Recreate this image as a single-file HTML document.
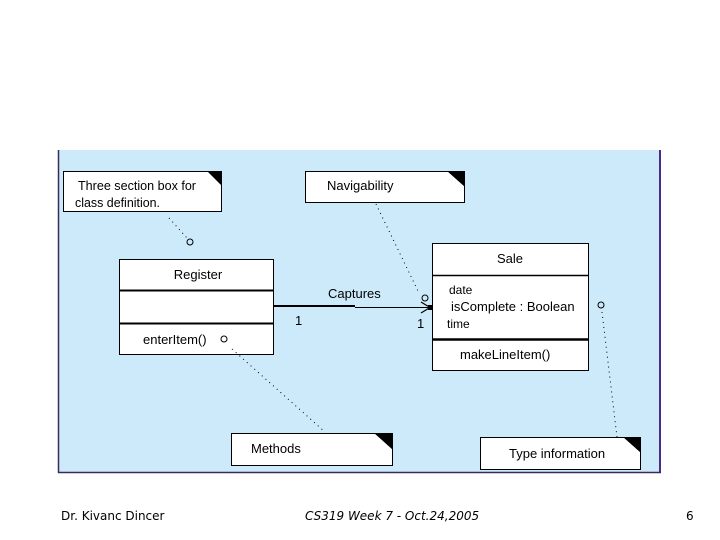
<!DOCTYPE html>
<html><head><meta charset="utf-8"><style>
html,body{margin:0;padding:0;background:#fff;}
svg{display:block;}
text{font-family:"Liberation Sans",sans-serif;fill:#000;}
</style></head><body>
<svg width="720" height="540" viewBox="0 0 720 540" xmlns="http://www.w3.org/2000/svg">
<rect x="58" y="150" width="602" height="322" fill="#cdeafb"/>
<line x1="58.5" y1="150" x2="58.5" y2="473" stroke="#3a2a5a" stroke-width="1.5"/>
<line x1="660" y1="150" x2="660" y2="473" stroke="#4a2a8a" stroke-width="2"/>
<line x1="58" y1="472.5" x2="661" y2="472.5" stroke="#3a2a5a" stroke-width="1.5"/>

<!-- notes -->
<g stroke="#000" stroke-width="1" fill="#fff">
<rect x="63.5" y="171.5" width="158" height="40"/>
<rect x="305.5" y="171.5" width="159" height="31"/>
<rect x="231.5" y="433.5" width="161" height="32"/>
<rect x="480.5" y="437.5" width="160" height="32"/>
</g>
<g fill="#000">
<polygon points="207,171 222,171 222,186"/>
<polygon points="447,171 465,171 465,187"/>
<polygon points="374,433 393,433 393,450"/>
<polygon points="623,437 641,437 641,453"/>
</g>
<text x="78" y="190" font-size="13" textLength="118" lengthAdjust="spacingAndGlyphs">Three section box for</text>
<text x="75" y="207" font-size="13" textLength="85" lengthAdjust="spacingAndGlyphs">class definition.</text>
<text x="327" y="190" font-size="13">Navigability</text>
<text x="251" y="453" font-size="13">Methods</text>
<text x="509" y="458" font-size="13">Type information</text>

<!-- Register -->
<rect x="119.5" y="259.5" width="154" height="95" fill="#fff" stroke="#000"/>
<line x1="119" y1="290.5" x2="274" y2="290.5" stroke="#000" stroke-width="2"/>
<line x1="119" y1="323.5" x2="274" y2="323.5" stroke="#000" stroke-width="2"/>
<text x="198" y="279" font-size="13" text-anchor="middle">Register</text>
<text x="143" y="344" font-size="13">enterItem()</text>
<circle cx="224" cy="339" r="3" fill="none" stroke="#000"/>

<!-- Sale -->
<rect x="432.5" y="243.5" width="156" height="127" fill="#fff" stroke="#000"/>
<line x1="432" y1="275.5" x2="589" y2="275.5" stroke="#000" stroke-width="1.5"/>
<line x1="432" y1="339.5" x2="589" y2="339.5" stroke="#000" stroke-width="2.5"/>
<text x="510" y="263" font-size="13" text-anchor="middle">Sale</text>
<text x="449" y="294" font-size="12">date</text>
<text x="451" y="311" font-size="13">isComplete : Boolean</text>
<text x="447" y="328" font-size="12">time</text>
<text x="460" y="359" font-size="13">makeLineItem()</text>

<!-- association -->
<line x1="274" y1="306" x2="355" y2="306" stroke="#000" stroke-width="2"/>
<line x1="355" y1="307.5" x2="432" y2="307.5" stroke="#000" stroke-width="1"/>
<polyline points="421,302 430,307.5 421,313" fill="none" stroke="#000" stroke-width="1.2"/>
<rect x="428" y="305" width="5" height="5" fill="#000"/>
<text x="328" y="298" font-size="13">Captures</text>
<text x="295" y="325" font-size="13">1</text>
<text x="417" y="328" font-size="13">1</text>
<circle cx="425" cy="298" r="3" fill="none" stroke="#000"/>
<circle cx="190" cy="242" r="3" fill="none" stroke="#000"/>
<circle cx="601" cy="305" r="3" fill="none" stroke="#000"/>

<!-- dotted links -->
<g stroke="#000" stroke-width="1" stroke-dasharray="1,4" fill="none">
<line x1="169" y1="218" x2="187" y2="238"/>
<line x1="376" y1="204" x2="418" y2="291"/>
<line x1="232" y1="349" x2="325" y2="432"/>
<line x1="602" y1="312" x2="617" y2="437"/>
</g>

<text x="61" y="520" font-size="12" font-family="DejaVu Sans" style="font-family:'DejaVu Sans',sans-serif">Dr. Kivanc Dincer</text>
<text x="305" y="520" font-size="12" font-style="italic" style="font-family:'DejaVu Sans',sans-serif">CS319 Week 7 - Oct.24,2005</text>
<text x="686" y="520" font-size="12" style="font-family:'DejaVu Sans',sans-serif">6</text>
</svg>
</body></html>
